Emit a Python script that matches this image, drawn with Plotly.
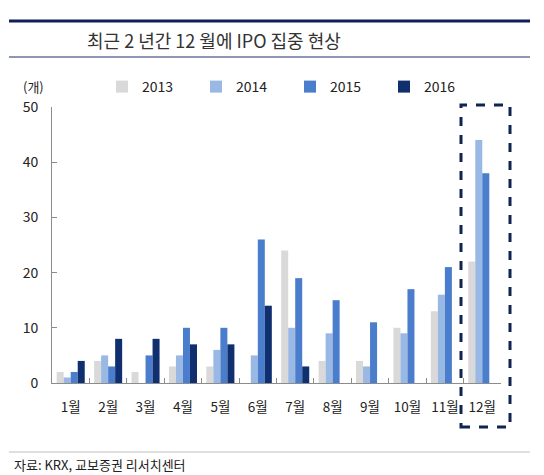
import plotly.graph_objects as go

months = ["1월", "2월", "3월", "4월", "5월", "6월", "7월", "8월", "9월", "10월", "11월", "12월"]
y2013 = [2, 4, 2, 3, 3, 0, 24, 4, 4, 10, 13, 22]
y2014 = [1, 5, 0, 5, 6, 5, 10, 9, 3, 9, 16, 44]
y2015 = [2, 3, 5, 10, 10, 26, 19, 15, 11, 17, 21, 38]
y2016 = [4, 8, 8, 7, 7, 14, 3, None, None, None, None, None]
series_names = ["2013", "2014", "2015", "2016"]
colors = ["#d9d9d9", "#9ab8e4", "#4a7dcc", "#0f2f6e"]
y_ticks = [0, 10, 20, 30, 40, 50]

FONT = "Noto Sans CJK KR"
OFF = 8  # page body margin
W, H = 544 - OFF, 475 - OFF
# plot area in page pixels
PX0, PX1, PY0, PY1 = 52, 501, 107, 383
L, R, T, B = PX0 - OFF, W - (PX1 - OFF), PY0 - OFF, H - (PY1 - OFF)
pw, ph = PX1 - PX0, PY1 - PY0


def px_x(x):
    return (x - PX0) / pw


def px_y(y):
    return (PY1 - y) / ph


fig = go.Figure()
for name, vals, c in zip(series_names, [y2013, y2014, y2015, y2016], colors):
    fig.add_trace(go.Bar(x=months, y=vals, name=name, marker=dict(color=c, line=dict(width=0))))

fig.update_layout(
    width=W, height=H,
    margin=dict(l=L, r=R, t=T, b=B),
    plot_bgcolor="white", paper_bgcolor="white",
    barmode="group", bargap=0.25, bargroupgap=0,
    font=dict(family=FONT, size=14, color="#222222"),
    title=dict(text="최근 2 년간 12 월에 IPO 집중 현상", x=(87 - OFF) / W, xanchor="left",
               y=1 - (42 - OFF) / H, yanchor="middle", font=dict(family=FONT, size=18, color="#333333")),
    legend=dict(orientation="h", x=px_x(102), xanchor="left", y=px_y(87), yanchor="middle",
                entrywidth=49, entrywidthmode="pixels", font=dict(size=14, color="#222222"),
                bgcolor="rgba(0,0,0,0)", itemclick=False),
    xaxis=dict(showline=True, linecolor="#8c8c8c", linewidth=1, ticks="inside", ticklen=5,
               tickcolor="#8c8c8c", tickson="boundaries", showgrid=False, tickangle=0,
               tickfont=dict(size=13.5, color="#222222"), ticklabelstandoff=12),
    yaxis=dict(range=[0, 50], tickvals=y_ticks, showline=True, linecolor="#8c8c8c", linewidth=1,
               ticks="inside", ticklen=5, tickcolor="#8c8c8c", showgrid=False, zeroline=False,
               tickfont=dict(size=14, color="#222222"), ticklabelstandoff=10),
    shapes=[
        dict(type="line", xref="paper", yref="paper", x0=px_x(9), x1=px_x(530), y0=px_y(21), y1=px_y(21),
             line=dict(color="#0f1f5c", width=3)),
        dict(type="line", xref="paper", yref="paper", x0=px_x(9), x1=px_x(530), y0=px_y(57), y1=px_y(57),
             line=dict(color="#1f2f6c", width=1.2)),
        dict(type="line", xref="paper", yref="paper", x0=px_x(9), x1=px_x(530), y0=px_y(452), y1=px_y(452),
             line=dict(color="#bfbfbf", width=1)),
        dict(type="rect", xref="paper", yref="paper", x0=px_x(461), x1=px_x(510), y0=px_y(427), y1=px_y(105),
             line=dict(color="#0f2550", width=3, dash="dash")),
    ],
    annotations=[
        dict(text="(개)", xref="paper", yref="paper", x=px_x(33), y=px_y(86), showarrow=False,
             xanchor="center", yanchor="middle", font=dict(size=13, color="#222222")),
        dict(text="자료: KRX, 교보증권 리서치센터", xref="paper", yref="paper", x=px_x(12), y=px_y(464),
             showarrow=False, xanchor="left", yanchor="middle", font=dict(size=13, color="#222222")),
    ],
)

fig.write_html("out.html")
